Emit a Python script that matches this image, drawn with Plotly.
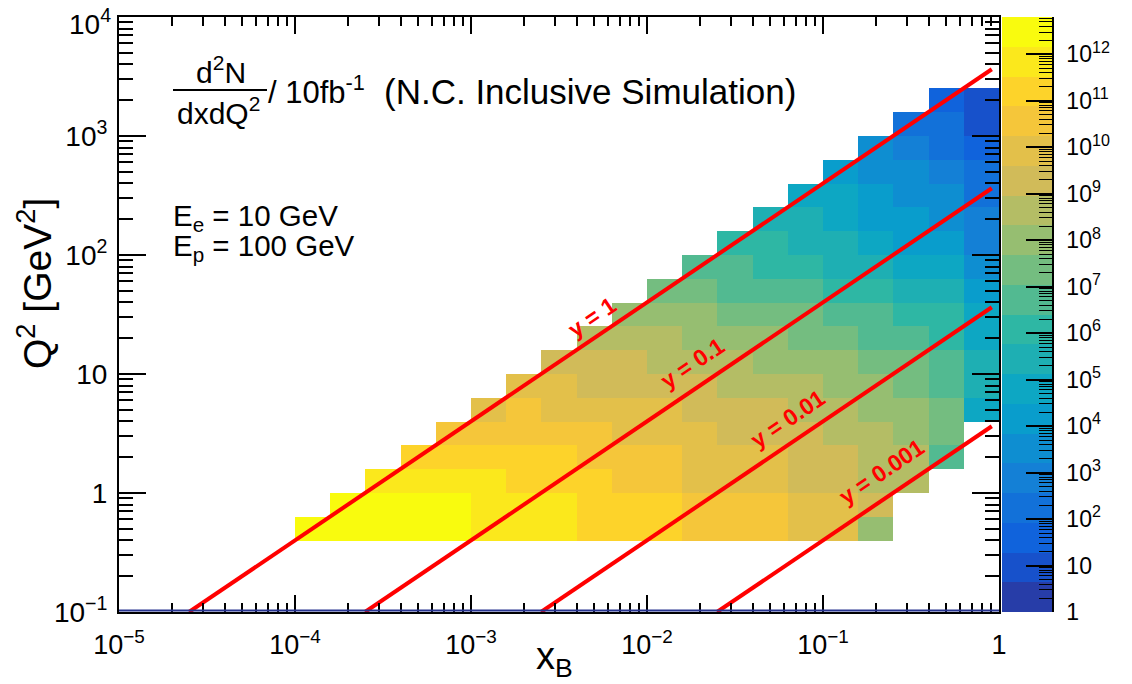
import numpy as np
import plotly.graph_objects as go

# ---------------- data ----------------
# bin edges (log10) : 5 bins per decade
x_edges_log10 = [round(-5 + 0.2 * k, 2) for k in range(26)]
q2_edges_log10 = [round(-1 + 0.2 * k, 2) for k in range(26)]

_ = None
# log10( d2N/dxdQ2 per 10 fb^-1 ), rows = Q2 bins (bottom -> top), cols = x bins (left -> right)
log10_counts = [
    [_] * 25,
    [_] * 25,
    [_] * 25,
    [_, _, _, _, _, 12.5, 12.5, 12.5, 12.5, 12.5, 11.8, 11.8, 11.8, 11.2, 11.2, 11.2, 10.6, 10.6, 10.6, 9.9, 9.9, 8.0, _, _, _],
    [_, _, _, _, _, _, 12.5, 12.5, 12.5, 12.5, 11.8, 11.8, 11.8, 11.2, 11.2, 11.2, 10.6, 10.6, 10.6, 9.9, 9.9, 9.3, _, _, _],
    [_, _, _, _, _, _, _, 11.8, 11.8, 11.8, 11.8, 11.2, 11.2, 11.2, 10.6, 10.6, 9.9, 9.9, 9.9, 9.3, 9.3, 8.6, 8.6, _, _],
    [_, _, _, _, _, _, _, _, 11.2, 11.2, 11.2, 11.2, 11.2, 10.6, 10.6, 10.6, 9.9, 9.9, 9.9, 9.3, 9.3, 8.6, 8.6, 6.7, _],
    [_, _, _, _, _, _, _, _, _, 10.6, 10.6, 10.6, 10.6, 10.6, 9.9, 9.9, 9.9, 9.3, 9.3, 9.3, 8.6, 8.6, 8.0, 7.4, _],
    [_, _, _, _, _, _, _, _, _, _, 9.9, 10.6, 9.9, 9.9, 9.9, 9.9, 9.3, 9.3, 9.3, 8.6, 8.6, 8.0, 8.0, 7.4, 4.8],
    [_, _, _, _, _, _, _, _, _, _, _, 9.9, 9.9, 9.3, 9.3, 9.3, 9.3, 8.6, 8.6, 8.6, 8.0, 8.0, 7.4, 6.7, 5.4],
    [_, _, _, _, _, _, _, _, _, _, _, _, 9.3, 9.3, 9.3, 8.6, 8.6, 8.6, 8.0, 8.0, 8.0, 7.4, 7.4, 6.7, 5.4],
    [_, _, _, _, _, _, _, _, _, _, _, _, _, 8.6, 8.6, 8.6, 8.0, 8.0, 8.0, 7.4, 7.4, 6.7, 6.7, 6.1, 4.8],
    [_, _, _, _, _, _, _, _, _, _, _, _, _, _, 8.0, 8.0, 8.0, 7.4, 7.4, 7.4, 6.7, 6.7, 6.1, 6.1, 4.8],
    [_, _, _, _, _, _, _, _, _, _, _, _, _, _, _, 7.4, 7.4, 6.7, 6.7, 6.7, 6.1, 6.1, 5.4, 5.4, 4.2],
    [_, _, _, _, _, _, _, _, _, _, _, _, _, _, _, _, 6.7, 6.7, 6.1, 6.1, 5.4, 5.4, 4.8, 4.8, 3.5],
    [_, _, _, _, _, _, _, _, _, _, _, _, _, _, _, _, _, 6.1, 6.1, 5.4, 5.4, 4.8, 4.2, 4.2, 2.9],
    [_, _, _, _, _, _, _, _, _, _, _, _, _, _, _, _, _, _, 5.4, 5.4, 4.8, 4.2, 4.2, 3.5, 2.9],
    [_, _, _, _, _, _, _, _, _, _, _, _, _, _, _, _, _, _, _, 4.8, 4.8, 4.2, 3.5, 3.5, 2.2],
    [_, _, _, _, _, _, _, _, _, _, _, _, _, _, _, _, _, _, _, _, 4.2, 3.5, 3.5, 2.9, 2.2],
    [_, _, _, _, _, _, _, _, _, _, _, _, _, _, _, _, _, _, _, _, _, 3.5, 2.9, 2.2, 1.6],
    [_, _, _, _, _, _, _, _, _, _, _, _, _, _, _, _, _, _, _, _, _, _, 2.2, 2.2, 1.0],
    [_, _, _, _, _, _, _, _, _, _, _, _, _, _, _, _, _, _, _, _, _, _, _, 1.6, 1.0],
    [_] * 25,
    [_] * 25,
    [_] * 25,
]

# kinematic lines  Q2 = s * x * y
E_e = 10.0
E_p = 100.0
y_values = [1.0, 0.1, 0.01, 0.001]
y_labels = ["y = 1", "y = 0.1", "y = 0.01", "y = 0.001"]
q2_line_min = 0.1
x_line_max = 0.91

# colour axis
z_min, z_max, n_contours = 0.0, 12.8, 20

x_tick_vals = [-5, -4, -3, -2, -1, 0]
x_tick_text = ["10<sup>\u22125</sup>", "10<sup>\u22124</sup>", "10<sup>\u22123</sup>",
               "10<sup>\u22122</sup>", "10<sup>\u22121</sup>", "1"]
y_tick_vals = [-1, 0, 1, 2, 3, 4]
y_tick_text = ["10<sup>\u22121</sup>", "1", "10", "10<sup>2</sup>", "10<sup>3</sup>", "10<sup>4</sup>"]
z_tick_vals = list(range(0, 13))
z_tick_text = ["1", "10"] + ["10<sup>%d</sup>" % n for n in range(2, 13)]

# ---------------- style helpers ----------------
FONT = "Liberation Sans, Arial, Helvetica, sans-serif"
W, H = 1132, 684
L, R, T, B = 119, 79, 17, 72
PW, PH = W - L - R, H - T - B


def px_x(px):
    return (px - L) / PW


def px_y(py):
    return (H - B - py) / PH


def kbird(f):
    st = [0.0, 0.125, 0.25, 0.375, 0.5, 0.625, 0.75, 0.875, 1.0]
    r = [0.2082, 0.0592, 0.0780, 0.0232, 0.1802, 0.5301, 0.8186, 0.9956, 0.9764]
    g = [0.1664, 0.3599, 0.5041, 0.6419, 0.7178, 0.7492, 0.7328, 0.7862, 0.9832]
    b = [0.5293, 0.8684, 0.8385, 0.7914, 0.6425, 0.4662, 0.3499, 0.1968, 0.0539]
    f = min(max(f, 0.0), 1.0)
    return "rgb(%d,%d,%d)" % (round(np.interp(f, st, r) * 255),
                              round(np.interp(f, st, g) * 255),
                              round(np.interp(f, st, b) * 255))


colorscale = []
for k in range(n_contours):
    idx = int((k + 0.99) * 255 / n_contours)
    c = kbird(idx / 254.0)
    colorscale.append([k / n_contours, c])
    colorscale.append([(k + 1) / n_contours, c])

fig = go.Figure()

# main 2D histogram
fig.add_trace(go.Heatmap(
    x=x_edges_log10, y=q2_edges_log10, z=log10_counts,
    colorscale=colorscale, zmin=z_min, zmax=z_max, showscale=False,
    hoverongaps=False, xaxis="x", yaxis="y"))

# kinematic limit lines
s = 4 * E_e * E_p
for yv in y_values:
    xs = np.array([q2_line_min / (s * yv), x_line_max])
    q2 = s * xs * yv
    fig.add_trace(go.Scatter(x=np.log10(xs), y=np.log10(q2), mode="lines",
                             line=dict(color="#ff0000", width=4), showlegend=False,
                             hoverinfo="skip", xaxis="x", yaxis="y"))

# palette (colour bar) drawn as its own axis
cb_edges = list(np.linspace(z_min, z_max, n_contours + 1))
cb_z = [[(cb_edges[k] + cb_edges[k + 1]) / 2] for k in range(n_contours)]
fig.add_trace(go.Heatmap(x=[0, 1], y=cb_edges, z=cb_z, colorscale=colorscale,
                         zmin=z_min, zmax=z_max, showscale=False, hoverinfo="skip",
                         xaxis="x2", yaxis="y2"))

minor_x = [d + np.log10(m) for d in range(-5, 0) for m in range(2, 10)]
minor_y = [d + np.log10(m) for d in range(-1, 4) for m in range(2, 10)]
minor_z = [d + np.log10(m) for d in range(0, 13) for m in range(2, 10) if d + np.log10(m) < z_max]

# the top label sits at the very edge of the page, so it is drawn as an annotation
y_axis_labels = [t if v < 4 else "" for v, t in zip(y_tick_vals, y_tick_text)]

fig.update_layout(
    width=W, height=H,
    margin=dict(l=L, r=R, t=T, b=B, pad=0, autoexpand=False),
    paper_bgcolor="white", plot_bgcolor="white",
    showlegend=False,
    xaxis=dict(domain=[0, 880 / PW], range=[-5, 0], tickmode="array",
               tickvals=x_tick_vals, ticktext=x_tick_text,
               ticks="inside", ticklen=17, tickwidth=2, tickcolor="black",
               showline=True, linewidth=2, linecolor="black", mirror="allticks",
               showgrid=False, zeroline=False, ticklabelstandoff=8,
               tickfont=dict(family=FONT, size=27, color="black"),
               minor=dict(tickmode="array", tickvals=minor_x, ticks="inside", ticklen=9,
                          tickwidth=1.5, tickcolor="black", showgrid=False),
               anchor="y"),
    yaxis=dict(domain=[0, 1], range=[-1, 4], tickmode="array",
               tickvals=y_tick_vals, ticktext=y_axis_labels,
               ticks="inside", ticklen=27, tickwidth=2, tickcolor="black",
               showline=True, linewidth=2, linecolor="black", mirror="allticks",
               showgrid=False, zeroline=False, ticklabelstandoff=4,
               tickfont=dict(family=FONT, size=28, color="black"),
               minor=dict(tickmode="array", tickvals=minor_y, ticks="inside", ticklen=14,
                          tickwidth=1.5, tickcolor="black", showgrid=False),
               anchor="x"),
    xaxis2=dict(domain=[883 / PW, 933 / PW], range=[0, 1], visible=False, anchor="y2"),
    yaxis2=dict(domain=[0, 1], range=[z_min, z_max], anchor="x2", side="right",
                tickmode="array", tickvals=z_tick_vals, ticktext=z_tick_text,
                ticks="inside", ticklen=26, tickwidth=1.5, tickcolor="black",
                showline=True, linewidth=1.5, linecolor="black",
                showgrid=False, zeroline=False, ticklabelstandoff=8,
                tickfont=dict(family=FONT, size=23, color="black"),
                minor=dict(tickmode="array", tickvals=minor_z, ticks="inside", ticklen=13,
                           tickwidth=1.2, tickcolor="black", showgrid=False)),
)

# thin underflow strip along the bottom of the frame
fig.add_shape(type="line", xref="x", yref="y", x0=-5, x1=0, y0=-0.988, y1=-0.988,
              line=dict(color="#26338f", width=2))

ann = []
# top y tick label (nudged down so it stays on the page, as in the original)
ann.append(dict(text=y_tick_text[-1], xref="paper", yref="y", x=px_x(113), y=y_tick_vals[-1],
                xanchor="right", yanchor="middle", showarrow=False, yshift=-5,
                font=dict(family=FONT, size=28, color="black")))
# axis titles
ann.append(dict(text="x<sub>B</sub>", xref="paper", yref="paper", x=px_x(554), y=px_y(659),
                xanchor="center", yanchor="middle", showarrow=False,
                font=dict(family=FONT, size=38, color="black")))
ann.append(dict(text="Q<sup>2</sup> [GeV<sup>2</sup>]", xref="paper", yref="paper",
                x=px_x(34), y=px_y(284), xanchor="center", yanchor="middle",
                textangle=-90, showarrow=False,
                font=dict(family=FONT, size=39, color="black")))
# header text
ann.append(dict(text="d<sup>2</sup>N", xref="paper", yref="paper", x=px_x(221), y=px_y(70),
                xanchor="center", yanchor="middle", showarrow=False,
                font=dict(family=FONT, size=30, color="black")))
ann.append(dict(text="dxdQ<sup>2</sup>", xref="paper", yref="paper", x=px_x(218), y=px_y(111),
                xanchor="center", yanchor="middle", showarrow=False,
                font=dict(family=FONT, size=30, color="black")))
ann.append(dict(text="/ 10fb<sup>-1</sup>", xref="paper", yref="paper", x=px_x(266), y=px_y(90),
                xanchor="left", yanchor="middle", showarrow=False,
                font=dict(family=FONT, size=31, color="black")))
ann.append(dict(text="(N.C. Inclusive Simulation)", xref="paper", yref="paper",
                x=px_x(382), y=px_y(91), xanchor="left", yanchor="middle", showarrow=False,
                font=dict(family=FONT, size=35, color="black")))
ann.append(dict(text="E<sub>e</sub> = 10 GeV", xref="paper", yref="paper", x=px_x(171), y=px_y(217),
                xanchor="left", yanchor="middle", showarrow=False,
                font=dict(family=FONT, size=29.5, color="black")))
ann.append(dict(text="E<sub>p</sub> = 100 GeV", xref="paper", yref="paper", x=px_x(171), y=px_y(248),
                xanchor="left", yanchor="middle", showarrow=False,
                font=dict(family=FONT, size=29.5, color="black")))
# y-line labels
label_x_log = [-2.31, -1.74, -1.20, -0.67]
label_q2_log = [1.48, 1.09, 0.62, 0.18]
for t, lx, ly in zip(y_labels, label_x_log, label_q2_log):
    ann.append(dict(text="<b>%s</b>" % t, xref="x", yref="y", x=lx, y=ly,
                    xanchor="center", yanchor="middle", textangle=-34, showarrow=False,
                    font=dict(family=FONT, size=23, color="#ff0000")))
fig.update_layout(annotations=ann)

# fraction bar
fig.add_shape(type="line", xref="paper", yref="paper", x0=px_x(173), x1=px_x(267),
              y0=px_y(90), y1=px_y(90), line=dict(color="black", width=2))

fig.write_html("out.html", config={"displayModeBar": False},
               post_script="document.body.style.margin='0';")
